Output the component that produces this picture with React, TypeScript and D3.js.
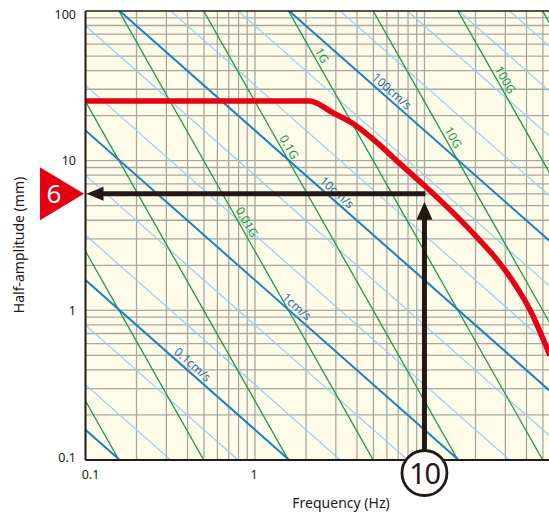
import React from 'react';
import * as d3 from 'd3';

// ---- data ----
const freqTickValues = [0.1, 1];
const freqTickLabels = ['0.1', '1'];
const ampTickValues = [0.1, 1, 10, 100];
const ampTickLabels = ['0.1', '1', '10', '100'];

const freqGrid = [0.2, 0.3, 0.4, 0.5, 0.6, 0.7, 0.8, 0.9, 1, 2, 3, 4, 5, 6, 7, 8, 9, 10, 20, 30, 40, 50];
const ampGrid = [0.2, 0.3, 0.4, 0.5, 0.6, 0.7, 0.8, 0.9, 1, 2, 3, 4, 5, 6, 7, 8, 9, 10, 20, 30, 40, 50, 60, 70, 80, 90];

// velocity lines (cm/s)
const velocityMajor = [0.01, 0.1, 1, 10, 100];
const velocityMinor = [0.005, 0.02, 0.05, 0.2, 0.5, 2, 5, 20, 50, 200, 500, 1000, 2000];
// acceleration lines (G)
const accelLines = [0.00001, 0.0001, 0.001, 0.01, 0.1, 1, 10, 100, 1000];

const velocityLabels = ['0.1cm/s', '1cm/s', '10cm/s', '100cm/s'];
const velocityLabelValues = [0.1, 1, 10, 100];
const velocityLabelFreqs = [0.4, 1.646, 2.835, 5.98];

const accelLabels = ['0.01G', '0.1G', '1G', '10G', '100G'];
const accelLabelValues = [0.01, 0.1, 1, 10, 100];
const accelLabelFreqs = [0.822, 1.46, 2.28, 13.55, 27.5];

// red performance curve (Hz, mm)
const curveFreq = [0.1, 1.0, 2.1, 2.88, 3.78, 5.25, 7.16, 9.79, 13.5, 20.3, 26.7, 33.3, 41.9, 55];
const curveAmp = [25, 25, 25, 20.9, 17.7, 13.2, 9.55, 6.95, 4.95, 3.1, 2.19, 1.56, 1.01, 0.5];

const readFreq = 10;
const readAmp = 6;
const readFreqLabel = '10';
const readAmpLabel = '6';

// ---- helpers ----
const G = 9806.65; // mm/s^2
const ampFromVelocity = (v: number, f: number) => (10 * v) / (2 * Math.PI * f);
const ampFromAccel = (a: number, f: number) => (a * G) / Math.pow(2 * Math.PI * f, 2);

const W = 549;
const H = 513;
const X0 = 85.5;
const X1 = 549;
const Y0 = 11;
const Y1 = 460;

const ink = '#231815';
const darkBlue = '#1a7fc6';
const lightBlue = '#92d0ef';
const green = '#1a9a4a';
const red = '#e50012';
const gridColor = '#a8a8a3';
const bg = '#fefce9';
const font = "'Noto Sans', 'Open Sans', sans-serif";

export default function App() {
  const x = d3.scaleLog().domain([0.1, 54.3]).range([X0, X1]);
  const y = d3.scaleLog().domain([0.1, 100]).range([Y1, Y0]);

  const lineGen = d3
    .line<[number, number]>()
    .x((d) => x(d[0]))
    .y((d) => y(d[1]));

  const fEnds = [0.02, 200];
  const velPath = (v: number) => lineGen(fEnds.map((f) => [f, ampFromVelocity(v, f)] as [number, number])) || '';
  const accPath = (a: number) => lineGen(fEnds.map((f) => [f, ampFromAccel(a, f)] as [number, number])) || '';

  const curvePath =
    d3
      .line<[number, number]>()
      .x((d) => x(d[0]))
      .y((d) => y(d[1]))
      .curve(d3.curveMonotoneX)(curveFreq.map((f, i) => [f, curveAmp[i]] as [number, number])) || '';

  const labelPos = (f: number, ampFn: (ff: number) => number) => {
    const px = x(f);
    const py = y(ampFn(f));
    const px2 = x(f * 1.2);
    const py2 = y(ampFn(f * 1.2));
    const ang = (Math.atan2(py2 - py, px2 - px) * 180) / Math.PI;
    return { px, py, ang };
  };

  // arrows
  const ax = x(readFreq);
  const ay = y(readAmp);
  const shaft = 5;
  const hHeadLen = 17;
  const hHeadHalf = 7;
  const circleR = 22.5;
  const circleCy = Y1 + 13;
  const vTip = ay + 8;
  const vHeadLen = 18;
  const vHeadHalf = 8;

  return (
    <svg
      width={W}
      height={H}
      viewBox={`0 0 ${W} ${H}`}
      style={{ position: 'absolute', left: 0, top: 0, background: '#ffffff' }}
      fontFamily={font}
    >
      <defs>
        <clipPath id="plotClip">
          <rect x={X0} y={Y0} width={X1 - X0} height={Y1 - Y0} />
        </clipPath>
      </defs>

      <rect x={X0} y={Y0} width={X1 - X0} height={Y1 - Y0} fill={bg} />

      <g clipPath="url(#plotClip)">
        {freqGrid.map((f) => (
          <line key={'vx' + f} x1={x(f)} x2={x(f)} y1={Y0} y2={Y1} stroke={gridColor} strokeWidth={1.3} />
        ))}
        {ampGrid.map((a) => (
          <line key={'hy' + a} x1={X0} x2={X1} y1={y(a)} y2={y(a)} stroke={gridColor} strokeWidth={1.3} />
        ))}

        {velocityMinor.map((v) => (
          <path key={'vm' + v} d={velPath(v)} stroke={lightBlue} strokeWidth={1.2} fill="none" />
        ))}
        {accelLines.map((a) => (
          <path key={'ac' + a} d={accPath(a)} stroke={green} strokeWidth={1.3} fill="none" />
        ))}
        {velocityMajor.map((v) => (
          <path key={'vM' + v} d={velPath(v)} stroke={darkBlue} strokeWidth={2} fill="none" />
        ))}

        {velocityLabels.map((t, i) => {
          const p = labelPos(velocityLabelFreqs[i], (f) => ampFromVelocity(velocityLabelValues[i], f));
          return (
            <text
              key={'vl' + t}
              transform={`translate(${p.px},${p.py}) rotate(${p.ang})`}
              textAnchor="middle"
              dy={-3.5}
              fontSize={12}
              fill="#1c6fb6"
            >
              {t}
            </text>
          );
        })}
        {accelLabels.map((t, i) => {
          const p = labelPos(accelLabelFreqs[i], (f) => ampFromAccel(accelLabelValues[i], f));
          return (
            <text
              key={'al' + t}
              transform={`translate(${p.px},${p.py}) rotate(${p.ang})`}
              textAnchor="middle"
              dy={-3}
              fontSize={12}
              fill={green}
            >
              {t}
            </text>
          );
        })}

        <path d={curvePath} stroke={red} strokeWidth={5.5} fill="none" strokeLinejoin="round" />
      </g>

      {/* frame */}
      <line x1={X0} x2={X1} y1={Y0} y2={Y0} stroke={ink} strokeWidth={1.6} />
      <line x1={X0} x2={X0} y1={Y0} y2={Y1} stroke={ink} strokeWidth={2} />
      <line x1={X0} x2={X1} y1={Y1} y2={Y1} stroke={ink} strokeWidth={2} />

      {/* horizontal reading arrow */}
      <line x1={X0 + hHeadLen - 1} x2={ax + 1} y1={ay} y2={ay} stroke={ink} strokeWidth={shaft} />
      <polygon
        points={`${X0 + 1},${ay} ${X0 + 1 + hHeadLen},${ay - hHeadHalf} ${X0 + 1 + hHeadLen},${ay + hHeadHalf}`}
        fill={ink}
      />

      {/* vertical reading arrow */}
      <line x1={ax} x2={ax} y1={circleCy - circleR} y2={vTip + vHeadLen - 1} stroke={ink} strokeWidth={shaft} />
      <polygon
        points={`${ax},${vTip} ${ax - vHeadHalf},${vTip + vHeadLen} ${ax + vHeadHalf},${vTip + vHeadLen}`}
        fill={ink}
      />

      {/* circle frequency marker */}
      <circle cx={ax} cy={circleCy} r={circleR} fill="#ffffff" stroke={ink} strokeWidth={2.8} />
      <text x={ax} y={circleCy + 10.5} textAnchor="middle" fontSize={29} letterSpacing={-1.5} fill={ink}>
        {readFreqLabel}
      </text>

      {/* red triangle amplitude marker */}
      <polygon points={`40,${ay - 26.5} 40,${ay + 26.5} ${X0 - 1.5},${ay}`} fill={red} />
      <text x={54} y={ay + 9.5} textAnchor="middle" fontSize={26} fill="#ffffff">
        {readAmpLabel}
      </text>

      {/* y tick labels */}
      {ampTickValues.map((v, i) => (
        <text
          key={'yt' + v}
          x={76}
          y={Math.min(Math.max(y(v), 15), 458)}
          dy="0.35em"
          textAnchor="end"
          fontSize={12.5}
          fill={ink}
        >
          {ampTickLabels[i]}
        </text>
      ))}
      {/* x tick labels */}
      {freqTickValues.map((v, i) => (
        <text
          key={'xt' + v}
          x={x(v) + (i === 0 ? 5 : -1)}
          y={Y1 + 19}
          textAnchor="middle"
          fontSize={12.5}
          fill={ink}
        >
          {freqTickLabels[i]}
        </text>
      ))}

      <text x={341} y={508} textAnchor="middle" fontSize={14} fill={ink}>
        Frequency (Hz)
      </text>
      <text transform={`translate(24,245) rotate(-90)`} textAnchor="middle" fontSize={14} fill={ink}>
        Half-amplitude (mm)
      </text>
    </svg>
  );
}
